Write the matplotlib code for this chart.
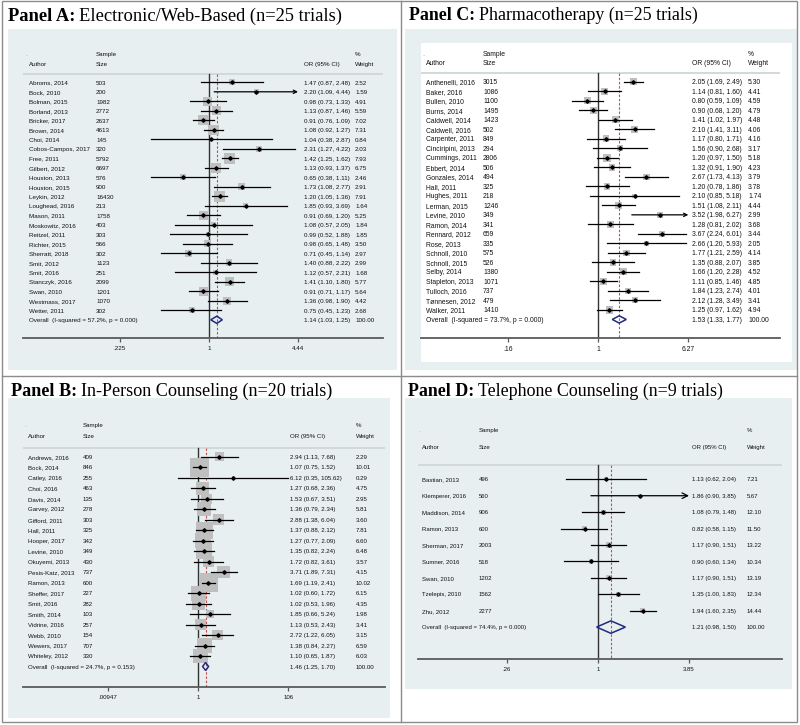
import numpy as np
import matplotlib
matplotlib.use("Agg")
import matplotlib.pyplot as plt
from matplotlib import transforms
from matplotlib.patches import Rectangle
from matplotlib.ticker import NullLocator

W, H = 800, 725

# ---- Panel A: Electronic/Web-Based ----
a_authors = ["Abroms, 2014", "Bock, 2010", "Bolman, 2015", "Borland, 2013", "Bricker, 2017",
             "Brown, 2014", "Choi, 2014", "Cobos-Campos, 2017", "Free, 2011", "Gilbert, 2012",
             "Houston, 2013", "Houston, 2015", "Leykin, 2012", "Loughead, 2016", "Mason, 2011",
             "Moskowitz, 2016", "Reitzel, 2011", "Richter, 2015", "Sherratt, 2018", "Smit, 2012",
             "Smit, 2016", "Stanczyk, 2016", "Swan, 2010", "Westmass, 2017", "Wetter, 2011"]
a_size = [503, 200, 1982, 2772, 2637, 4613, 145, 320, 5792, 6697, 576, 900, 16430, 213, 1758,
          403, 303, 566, 302, 1123, 251, 2099, 1201, 1070, 302]
a_or = [1.47, 2.20, 0.98, 1.13, 0.91, 1.08, 1.04, 2.31, 1.42, 1.13, 0.65, 1.73, 1.20, 1.85, 0.91,
        1.08, 0.99, 0.98, 0.71, 1.40, 1.12, 1.41, 0.91, 1.36, 0.75]
a_lo = [0.87, 1.09, 0.73, 0.87, 0.76, 0.92, 0.38, 1.27, 1.25, 0.93, 0.38, 1.08, 1.05, 0.93, 0.69,
        0.57, 0.52, 0.65, 0.45, 0.88, 0.57, 1.10, 0.71, 0.98, 0.45]
a_hi = [2.48, 4.44, 1.33, 1.46, 1.09, 1.27, 2.87, 4.22, 1.62, 1.37, 1.11, 2.77, 1.36, 3.69, 1.20,
        2.05, 1.88, 1.48, 1.14, 2.22, 2.21, 1.80, 1.17, 1.90, 1.23]
a_weight = [2.52, 1.59, 4.91, 5.59, 7.02, 7.31, 0.84, 2.03, 7.93, 6.75, 2.46, 2.91, 7.91, 1.64, 5.25,
            1.84, 1.85, 3.50, 2.97, 2.99, 1.68, 5.77, 5.64, 4.42, 2.68]
a_overall = [1.14, 1.03, 1.25]
a_i2, a_p = 57.2, 0.000
a_ticks = [0.225, 1, 4.44]
a_ticklabels = [".225", "1", "4.44"]

# ---- Panel B: In-Person Counseling ----
b_authors = ["Andrews, 2016", "Bock, 2014", "Catley, 2016", "Choi, 2016", "Davis, 2014",
             "Garvey, 2012", "Gifford, 2011", "Hall, 2011", "Hooper, 2017", "Levine, 2010",
             "Okuyemi, 2013", "Pesis-Katz, 2013", "Ramon, 2013", "Sheffer, 2017", "Smit, 2016",
             "Smith, 2014", "Vidrine, 2016", "Webb, 2010", "Wewers, 2017", "Whiteley, 2012"]
b_size = [409, 846, 255, 463, 135, 278, 303, 325, 342, 349, 430, 737, 600, 227, 282, 103, 257,
          154, 707, 330]
b_or = [2.94, 1.07, 6.12, 1.27, 1.53, 1.36, 2.88, 1.37, 1.27, 1.35, 1.72, 3.71, 1.69, 1.02, 1.02,
        1.85, 1.13, 2.72, 1.38, 1.10]
b_lo = [1.13, 0.75, 0.35, 0.68, 0.67, 0.79, 1.38, 0.88, 0.77, 0.82, 0.82, 1.89, 1.19, 0.60, 0.53,
        0.66, 0.53, 1.22, 0.84, 0.65]
b_hi = [7.68, 1.52, 105.62, 2.36, 3.51, 2.34, 6.04, 2.12, 2.09, 2.24, 3.61, 7.31, 2.41, 1.72, 1.96,
        5.24, 2.43, 6.05, 2.27, 1.87]
b_weight = [2.29, 10.01, 0.29, 4.75, 2.95, 5.81, 3.60, 7.81, 6.60, 6.48, 3.57, 4.15, 10.02, 6.15,
            4.35, 1.98, 3.41, 3.15, 6.59, 6.03]
b_overall = [1.46, 1.25, 1.70]
b_i2, b_p = 24.7, 0.153
b_ticks = [0.00947, 1, 106]
b_ticklabels = [".00947", "1", "106"]

# ---- Panel C: Pharmacotherapy ----
c_authors = ["Anthenelli, 2016", "Baker, 2016", "Bullen, 2010", "Burns, 2014", "Caldwell, 2014",
             "Caldwell, 2016", "Carpenter, 2011", "Cinciripini, 2013", "Cummings, 2011",
             "Ebbert, 2014", "Gonzales, 2014", "Hall, 2011", "Hughes, 2011", "Lerman, 2015",
             "Levine, 2010", "Ramon, 2014", "Rennard, 2012", "Rose, 2013", "Schnoll, 2010",
             "Schnoll, 2015", "Selby, 2014", "Stapleton, 2013", "Tulloch, 2016",
             "Tønnesen, 2012", "Walker, 2011"]
c_size = [3015, 1086, 1100, 1495, 1423, 502, 849, 294, 2806, 506, 494, 325, 218, 1246, 349, 341,
          659, 335, 575, 526, 1380, 1071, 737, 479, 1410]
c_or = [2.05, 1.14, 0.80, 0.90, 1.41, 2.10, 1.17, 1.56, 1.20, 1.32, 2.67, 1.20, 2.10, 1.51, 3.52,
        1.28, 3.67, 2.66, 1.77, 1.35, 1.66, 1.11, 1.84, 2.12, 1.25]
c_lo = [1.69, 0.81, 0.59, 0.68, 1.02, 1.41, 0.80, 0.90, 0.97, 0.91, 1.73, 0.78, 0.85, 1.08, 1.98,
        0.81, 2.24, 1.20, 1.21, 0.88, 1.20, 0.85, 1.23, 1.28, 0.97]
c_hi = [2.49, 1.60, 1.09, 1.20, 1.97, 3.11, 1.71, 2.68, 1.50, 1.90, 4.13, 1.86, 5.18, 2.11, 6.27,
        2.02, 6.01, 5.93, 2.59, 2.07, 2.28, 1.46, 2.74, 3.49, 1.62]
c_weight = [5.30, 4.41, 4.59, 4.79, 4.48, 4.06, 4.16, 3.17, 5.18, 4.23, 3.79, 3.78, 1.74, 4.44,
            2.99, 3.68, 3.44, 2.05, 4.14, 3.85, 4.52, 4.85, 4.01, 3.41, 4.94]
c_overall = [1.53, 1.33, 1.77]
c_i2, c_p = 73.7, 0.000
c_ticks = [0.16, 1, 6.27]
c_ticklabels = [".16", "1", "6.27"]

# ---- Panel D: Telephone Counseling ----
d_authors = ["Bastian, 2013", "Klemperer, 2016", "Maddison, 2014", "Ramon, 2013", "Sherman, 2017",
             "Sumner, 2016", "Swan, 2010", "Tzelepis, 2010", "Zhu, 2012"]
d_size = [496, 560, 906, 600, 2003, 518, 1202, 1562, 2277]
d_or = [1.13, 1.86, 1.08, 0.82, 1.17, 0.90, 1.17, 1.35, 1.94]
d_lo = [0.62, 0.90, 0.79, 0.58, 0.90, 0.60, 0.90, 1.00, 1.60]
d_hi = [2.04, 3.85, 1.48, 1.15, 1.51, 1.34, 1.51, 1.83, 2.35]
d_weight = [7.21, 5.67, 12.10, 11.50, 13.22, 10.34, 13.19, 12.34, 14.44]
d_overall = [1.21, 0.98, 1.50]
d_i2, d_p = 74.4, 0.000
d_ticks = [0.26, 1, 3.85]
d_ticklabels = [".26", "1", "3.85"]

BG = "#e8eff1"
TXT = "#111111"
SANS = "Liberation Sans"
SERIF = "Liberation Serif"

fig = plt.figure(figsize=(W / 100, H / 100), dpi=100)
fig.patch.set_facecolor("white")


def rect(x0, y0, x1, y1, **kw):
    r = Rectangle((x0 / W, 1 - y1 / H), (x1 - x0) / W, (y1 - y0) / H,
                  transform=fig.transFigure, **kw)
    fig.add_artist(r)


def title(x, y, bold, rest, size):
    t = fig.text(x / W, 1 - y / H, bold, fontsize=size, family=SERIF, weight="bold",
                 va="baseline", ha="left")
    bb = t.get_window_extent(fig.canvas.get_renderer())
    fig.text((bb.x1 + 4) / W, 1 - y / H, rest, fontsize=size, family=SERIF,
             va="baseline", ha="left")


def panel(lay, authors, sizes, ors, los, his, wts, overall, i2, p, ticks, ticklabels):
    left, right, row0, sp = lay["left"], lay["right"], lay["row0"], lay["sp"]
    x1, xt, fs = lay["x1"], lay["xt"], lay["fs"]
    n = len(authors)
    axis_row = n + 1.93
    top_px = row0 - 4 * sp
    bot_px = row0 + axis_row * sp
    ax = fig.add_axes([left / W, 1 - bot_px / H, (right - left) / W, (bot_px - top_px) / H])
    ax.patch.set_visible(False)
    k = (xt - x1) / np.log(ticks[-1])
    ax.set_xscale("log")
    ax.set_xlim(np.exp((left - x1) / k), np.exp((right - x1) / k))
    ax.set_ylim(axis_row, -4)
    for s in ["top", "left", "right"]:
        ax.spines[s].set_visible(False)
    ax.spines["bottom"].set_color("#5a5a5a")
    ax.spines["bottom"].set_linewidth(1.3)
    ax.set_yticks([])
    ax.set_xticks(ticks)
    ax.set_xticklabels(ticklabels, family=SANS, fontsize=fs, color=TXT)
    ax.xaxis.set_minor_locator(NullLocator())
    ax.tick_params(axis="x", direction="out", length=3, width=0.9, color="#5a5a5a", pad=3)

    hdr = -0.87
    ax.axhline(hdr, color="#cfd7db", lw=1.3, zorder=1)
    ax.plot([1, 1], [hdr, axis_row], color="#333333", lw=1.0, zorder=2)
    ax.plot([overall[0]] * 2, [hdr, axis_row], color="#c0504d", lw=0.8,
            ls=(0, (2.2, 1.6)), zorder=2)

    rows = np.arange(n)
    w = np.array(wts)
    ax.scatter(ors, rows, marker="s", s=(lay["box"] * np.sqrt(w) * 0.72) ** 2,
               color="#bfbfbf", linewidths=0, zorder=3)
    for i in range(n):
        if his[i] >= ticks[-1]:
            ax.annotate("", xy=(his[i], i), xytext=(los[i], i),
                        arrowprops=dict(arrowstyle="->", color="k", lw=0.9, shrinkA=0,
                                        shrinkB=0, mutation_scale=lay["arrow"]), zorder=4)
        else:
            ax.plot([los[i], his[i]], [i, i], color="k", lw=0.9, zorder=4)
    ax.plot(ors, rows, "D", ms=1.8, color="k", zorder=5)

    o, olo, ohi = overall
    h = 0.38
    ax.fill([olo, o, ohi, o], [n, n - h, n, n + h], facecolor="none", edgecolor="#1f2a80",
            lw=1.1, zorder=5)

    # text columns: x in figure pixels, y on the row, shared baseline
    tr = transforms.blended_transform_factory(fig.transFigure, ax.transData)
    tr = transforms.offset_copy(tr, fig=fig, x=0, y=-0.36 * fs, units="points")
    kw = dict(transform=tr, fontsize=fs, family=SANS, color=TXT, va="baseline", ha="left")
    c = lay["cols"]
    ax.text((c[0] - 4) / W, -3, ".", transform=tr, fontsize=fs, color="#999999",
            va="baseline", ha="left")
    ax.text(c[1] / W, -3, "Sample", **kw)
    ax.text(c[3] / W, -3, "%", **kw)
    ax.text(c[0] / W, -2, "Author", **kw)
    ax.text(c[1] / W, -2, "Size", **kw)
    ax.text(c[2] / W, -2, "OR (95% CI)", **kw)
    ax.text(c[3] / W, -2, "Weight", **kw)
    for i in range(n):
        ax.text(c[0] / W, i, authors[i], **kw)
        ax.text(c[1] / W, i, str(sizes[i]), **kw)
        ax.text(c[2] / W, i, f"{ors[i]:.2f} ({los[i]:.2f}, {his[i]:.2f})", **kw)
        ax.text(c[3] / W, i, f"{wts[i]:.2f}", **kw)
    ax.text(c[0] / W, n, f"Overall  (I-squared = {i2:.1f}%, p = {p:.3f})", **kw)
    ax.text(c[2] / W, n, f"{o:.2f} ({olo:.2f}, {ohi:.2f})", **kw)
    ax.text(c[3] / W, n, "100.00", **kw)
    return ax


# backgrounds
rect(8, 29, 397, 370, facecolor=BG, edgecolor="none", zorder=-5)
rect(405, 29, 797, 370, facecolor=BG, edgecolor="none", zorder=-5)
rect(421, 43, 792, 362, facecolor="white", edgecolor="none", zorder=-4)
rect(8, 398, 390, 718, facecolor=BG, edgecolor="none", zorder=-5)
rect(405, 398, 792, 689, facecolor=BG, edgecolor="none", zorder=-5)

# frame lines
rect(2, 1, 797, 722, facecolor="none", edgecolor="#8c8c8c", lw=1.0, zorder=-3)
fig.add_artist(plt.Line2D([401 / W, 401 / W], [1 - 1 / H, 1 - 722 / H],
                          transform=fig.transFigure, color="#8c8c8c", lw=1.0))
fig.add_artist(plt.Line2D([2 / W, 797 / W], [1 - 376 / H, 1 - 376 / H],
                          transform=fig.transFigure, color="#8c8c8c", lw=1.0))

title(8, 20.7, "Panel A:", "Electronic/Web-Based (n=25 trials)", 13.3)
title(409, 19.5, "Panel C:", "Pharmacotherapy (n=25 trials)", 12.9)
title(11, 395.5, "Panel B:", "In-Person Counseling (n=20 trials)", 13.1)
title(408, 395.5, "Panel D:", "Telephone Counseling (n=9 trials)", 12.9)

lay_a = dict(left=23, right=383, row0=82.3, sp=9.5, x1=209, xt=298, fs=4.5, box=3.9,
             arrow=6, cols=[29, 96, 304, 355])
lay_b = dict(left=23, right=385, row0=456.7, sp=10.49, x1=198.3, xt=288.3, fs=4.4, box=6.0,
             arrow=6, cols=[28, 83, 290, 356])
lay_c = dict(left=421, right=780, row0=81.7, sp=9.51, x1=598.3, xt=688.3, fs=4.9, box=3.3,
             arrow=6, cols=[426, 483, 692, 748])
lay_d = dict(left=418, right=782, row0=479.3, sp=16.42, x1=598, xt=689, fs=4.3, box=1.45,
             arrow=10, cols=[422, 479, 692, 747])

panel(lay_a, a_authors, a_size, a_or, a_lo, a_hi, a_weight, a_overall, a_i2, a_p,
      a_ticks, a_ticklabels)
panel(lay_b, b_authors, b_size, b_or, b_lo, b_hi, b_weight, b_overall, b_i2, b_p,
      b_ticks, b_ticklabels)
panel(lay_c, c_authors, c_size, c_or, c_lo, c_hi, c_weight, c_overall, c_i2, c_p,
      c_ticks, c_ticklabels)
panel(lay_d, d_authors, d_size, d_or, d_lo, d_hi, d_weight, d_overall, d_i2, d_p,
      d_ticks, d_ticklabels)

fig.savefig("out.png", dpi=100, facecolor="white")
